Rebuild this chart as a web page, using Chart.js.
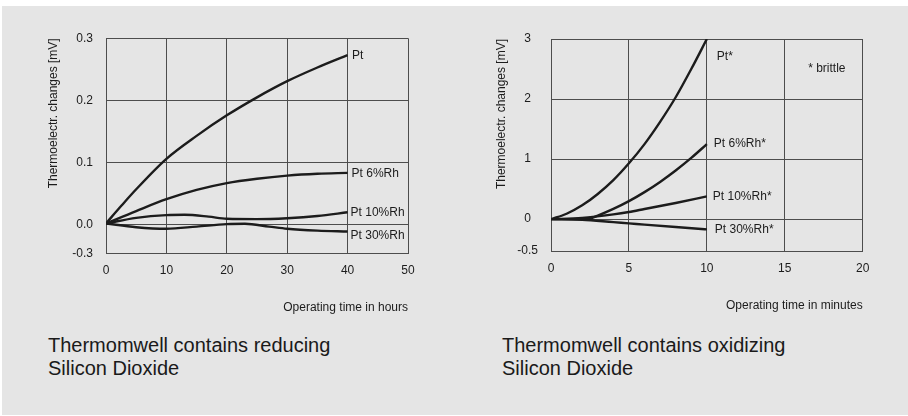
<!DOCTYPE html>
<html>
<head>
<meta charset="utf-8">
<script src="https://cdn.jsdelivr.net/npm/chart.js@4"></script>
<style>
  html, body { margin: 0; padding: 0; background: #ffffff; }
  body { width: 908px; height: 416px; position: relative; overflow: hidden; font-family: "Liberation Sans", Arial, sans-serif; }
  #bg { position: absolute; left: 2px; top: 6px; width: 906px; height: 409px; background: #e5e5e5; }
  .box { position: absolute; }
  .caption { position: absolute; font-size: 20px; line-height: 23px; color: #1a1a1a; white-space: nowrap; }
</style>
</head>
<body>
<div id="bg"></div>
<div class="box" id="boxL" style="left:40px; top:28px; width:380px; height:290px;"><canvas id="cL"></canvas></div>
<div class="box" id="boxR" style="left:490px; top:28px; width:384px; height:290px;"><canvas id="cR"></canvas></div>
<div class="caption" style="left:48px; top:334px;">Thermomwell contains reducing<br>Silicon Dioxide</div>
<div class="caption" style="left:502px; top:334px;">Thermomwell contains oxidizing<br>Silicon Dioxide</div>
<script>
// ---------- Left chart data (hours) ----------
const leftSeriesNames = ['Pt', 'Pt 6%Rh', 'Pt 10%Rh', 'Pt 30%Rh'];
const leftPtX    = [0, 2.5, 5, 10, 15, 20, 25, 30, 35, 40];
const leftPtY    = [0.002, 0.03, 0.057, 0.106, 0.143, 0.176, 0.205, 0.231, 0.253, 0.273];
const leftRh6X   = [0, 5, 10, 15, 20, 25, 30, 35, 40];
const leftRh6Y   = [0.002, 0.022, 0.041, 0.056, 0.067, 0.074, 0.079, 0.082, 0.0835];
const leftRh10X  = [0, 5, 10, 13, 17, 20, 25, 30, 35, 40];
const leftRh10Y  = [0.002, 0.011, 0.0155, 0.016, 0.013, 0.0095, 0.009, 0.0105, 0.014, 0.020];
const leftRh30X  = [0, 5, 10, 15, 20, 23, 27, 30, 35, 40];
const leftRh30Y  = [0.002, -0.004, -0.0065, -0.003, 0.001, 0.0015, -0.003, -0.0065, -0.0095, -0.011];
const leftXTicks = [0, 10, 20, 30, 40, 50];
const leftYTickValues = [-0.046, 0, 0.1, 0.2, 0.3];
const leftYTickLabels = ['-0.3', '0.0', '0.1', '0.2', '0.3'];
const leftXTitle = 'Operating time in hours';
const yTitle = 'Thermoelectr. changes [mV]';

// ---------- Right chart data (minutes) ----------
const rightSeriesNames = ['Pt*', 'Pt 6%Rh*', 'Pt 10%Rh*', 'Pt 30%Rh*'];
const rightPtX   = [0, 1, 2, 3, 4, 5, 6, 7, 8, 9, 10];
const rightPtY   = [0, 0.09, 0.23, 0.42, 0.65, 0.93, 1.25, 1.62, 2.03, 2.5, 3.0];
const rightRh6X  = [0, 2.3, 3, 4, 5, 6, 7, 8, 9, 10];
const rightRh6Y  = [0, 0, 0.06, 0.17, 0.3, 0.45, 0.62, 0.81, 1.02, 1.25];
const rightRh10X = [0, 2, 4, 5, 6, 8, 10];
const rightRh10Y = [0, 0.02, 0.08, 0.12, 0.17, 0.27, 0.38];
const rightRh30X = [0, 2, 4, 5, 6, 8, 10];
const rightRh30Y = [0, -0.01, -0.05, -0.07, -0.09, -0.13, -0.17];
const rightXTicks = [0, 5, 10, 15, 20];
const rightYTickValues = [-0.53, 0, 1, 2, 3];
const rightYTickLabels = ['-0.5', '0', '1', '2', '3'];
const rightXTitle = 'Operating time in minutes';
const rightNote = '* brittle';
const rightNoteAt = [16.5, 2.5];

const FONT = '"Liberation Sans", Arial, sans-serif';
const INK = '#1c1c1c';
const GRID = '#4d4d4d';

function pts(xs, ys) { return xs.map((x, i) => ({ x: x, y: ys[i] })); }
function ds(label, xs, ys) {
  return { label: label, data: pts(xs, ys), borderColor: INK, borderWidth: 2.4,
           pointRadius: 0, fill: false, cubicInterpolationMode: 'monotone', tension: 0.4 };
}
function zeroPad(s) { s.paddingTop = 0; s.paddingBottom = 0; s.paddingLeft = 0; s.paddingRight = 0; }

const endLabels = {
  id: 'endLabels',
  afterDatasetsDraw(chart, args, opts) {
    const ctx = chart.ctx;
    const xs = chart.scales.x, ys = chart.scales.y;
    ctx.save();
    ctx.font = '12px ' + FONT;
    ctx.fillStyle = INK;
    ctx.textBaseline = 'middle';
    ctx.textAlign = 'left';
    chart.data.datasets.forEach((d, i) => {
      const last = d.data[d.data.length - 1];
      const off = (opts.offsets && opts.offsets[i]) || [4, 0];
      ctx.fillText(d.label, xs.getPixelForValue(last.x) + off[0], ys.getPixelForValue(last.y) + off[1]);
    });
    if (opts.note) {
      ctx.fillText(opts.note.text, xs.getPixelForValue(opts.note.at[0]), ys.getPixelForValue(opts.note.at[1]));
    }
    ctx.restore();
  }
};

function makeChart(id, cfg) {
  return new Chart(document.getElementById(id), {
    type: 'line',
    data: { datasets: cfg.datasets },
    plugins: [endLabels],
    options: {
      responsive: true, maintainAspectRatio: false, animation: false,
      layout: { padding: cfg.padding },
      plugins: { legend: { display: false }, tooltip: { enabled: false }, endLabels: cfg.labels },
      scales: {
        x: {
          type: 'linear', min: cfg.xTicks[0], max: cfg.xTicks[cfg.xTicks.length - 1],
          afterBuildTicks: s => { s.ticks = cfg.xTicks.map(v => ({ value: v })); },
          afterFit: s => { s.height = cfg.xHeight; zeroPad(s); },
          grid: { color: GRID, lineWidth: 1, drawTicks: false },
          border: { display: true, color: GRID, width: 1 },
          ticks: { color: INK, font: { family: FONT, size: 12 }, padding: 10.5, maxRotation: 0,
                   callback: v => String(v) },
          title: { display: true, text: cfg.xTitle, align: 'end', color: INK,
                   font: { family: FONT, size: 12 }, padding: { top: 0, bottom: 0 } }
        },
        y: {
          type: 'linear', min: cfg.yVals[0], max: cfg.yVals[cfg.yVals.length - 1],
          afterBuildTicks: s => { s.ticks = cfg.yVals.map(v => ({ value: v })); },
          afterFit: s => { s.width = cfg.yWidth; zeroPad(s); },
          grid: { color: GRID, lineWidth: 1, drawTicks: false },
          border: { display: true, color: GRID, width: 1 },
          ticks: { color: INK, font: { family: FONT, size: 12 }, padding: 13, crossAlign: cfg.yAlign,
                   callback: (v, i) => cfg.yLabels[i] },
          title: { display: true, text: yTitle, align: 'end', color: INK,
                   font: { family: FONT, size: 12 }, padding: { top: cfg.yTitlePad, bottom: 0 } }
        }
      }
    }
  });
}

makeChart('cL', {
  datasets: [
    ds(leftSeriesNames[0], leftPtX, leftPtY),
    ds(leftSeriesNames[1], leftRh6X, leftRh6Y),
    ds(leftSeriesNames[2], leftRh10X, leftRh10Y),
    ds(leftSeriesNames[3], leftRh30X, leftRh30Y)
  ],
  xTicks: leftXTicks, yVals: leftYTickValues, yLabels: leftYTickLabels, xTitle: leftXTitle,
  padding: { top: 10.3, right: 12, bottom: 2.7, left: 0 }, xHeight: 62,
  yWidth: 66, yTitlePad: 6.8, yAlign: 'near',
  labels: { offsets: [[4.5, 0.5], [4, 1], [3, 0], [3, 4.5]] }
});

makeChart('cR', {
  datasets: [
    ds(rightSeriesNames[0], rightPtX, rightPtY),
    ds(rightSeriesNames[1], rightRh6X, rightRh6Y),
    ds(rightSeriesNames[2], rightRh10X, rightRh10Y),
    ds(rightSeriesNames[3], rightRh30X, rightRh30Y)
  ],
  xTicks: rightXTicks, yVals: rightYTickValues, yLabels: rightYTickLabels, xTitle: rightXTitle,
  padding: { top: 11, right: 11.3, bottom: 5.5, left: 0 }, xHeight: 61.5,
  yWidth: 61, yTitlePad: 4.5, yAlign: 'center',
  labels: { offsets: [[10, 18], [7, 0], [6, 0], [8, 0.5]], note: { text: rightNote, at: rightNoteAt } }
});
</script>
</body>
</html>
